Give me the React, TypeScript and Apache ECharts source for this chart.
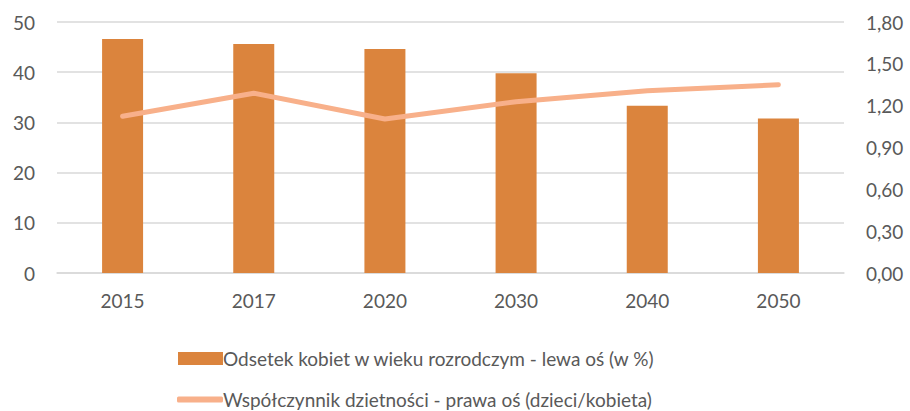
import React, { useEffect, useRef } from "react";
import * as echarts from "echarts";

const categories = ["2015", "2017", "2020", "2030", "2040", "2050"];
const womenShare = [46.6, 45.6, 44.6, 39.8, 33.3, 30.8];
const fertility = [1.124, 1.289, 1.104, 1.228, 1.307, 1.35];
const barName = "Odsetek kobiet w wieku rozrodczym - lewa oś (w %)";
const lineName = "Współczynnik dzietności - prawa oś (dzieci/kobieta)";

const FONT = "Lato, 'Open Sans', sans-serif";
const TXT = "#595959";

export default function App() {
  const ref = useRef<HTMLDivElement>(null);
  useEffect(() => {
    document.body.style.margin = "0";
    if (!ref.current) return;
    const chart = echarts.init(ref.current, undefined, { renderer: "svg" });
    const legendText = { fontFamily: FONT, fontSize: 19, color: TXT, padding: [0, 0, 0, -5] };
    chart.setOption({
      animation: false,
      textStyle: { fontFamily: FONT },
      grid: { left: 57, right: 66, top: 22, bottom: 138 },
      legend: [
        {
          left: 178,
          top: 349,
          padding: 0,
          itemWidth: 45,
          itemHeight: 13,
          icon: "rect",
          textStyle: legendText,
          data: [barName],
        },
        {
          left: 177,
          top: 390,
          padding: 0,
          itemWidth: 46,
          itemHeight: 6,
          icon: "roundRect",
          textStyle: legendText,
          data: [lineName],
        },
      ],
      xAxis: {
        type: "category",
        data: categories,
        axisTick: { show: false },
        axisLine: { lineStyle: { color: "#d9d9d9", width: 1.5 } },
        axisLabel: { fontFamily: FONT, fontSize: 19, color: TXT, margin: 18 },
      },
      yAxis: [
        {
          type: "value",
          min: 0,
          max: 50,
          interval: 10,
          axisLine: { show: false },
          axisTick: { show: false },
          splitLine: { lineStyle: { color: "#d9d9d9", width: 1.5 } },
          axisLabel: { fontFamily: FONT, fontSize: 19, color: TXT, margin: 22 },
        },
        {
          type: "value",
          min: 0,
          max: 1.8,
          interval: 0.3,
          axisLine: { show: false },
          axisTick: { show: false },
          splitLine: { show: false },
          axisLabel: {
            fontFamily: FONT,
            fontSize: 19,
            color: TXT,
            margin: 22,
            formatter: (v: number) => v.toFixed(2).replace(".", ","),
          },
        },
      ],
      series: [
        {
          name: barName,
          type: "bar",
          data: womenShare,
          barWidth: 41,
          itemStyle: { color: "#DB843D" },
          yAxisIndex: 0,
        },
        {
          name: lineName,
          type: "line",
          data: fertility,
          yAxisIndex: 1,
          symbol: "none",
          lineStyle: { color: "#F8B08A", width: 5, cap: "round" },
          itemStyle: { color: "#F8B08A" },
        },
      ],
    });
    return () => chart.dispose();
  }, []);
  return <div ref={ref} style={{ width: 910, height: 411 }} />;
}
